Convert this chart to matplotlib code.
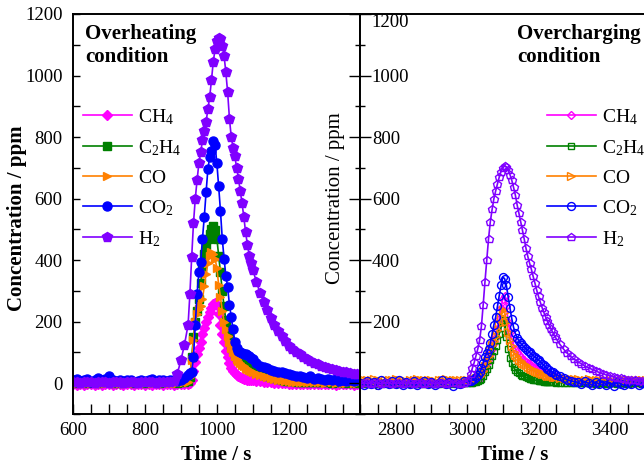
import matplotlib
matplotlib.use('Agg')
import matplotlib.pyplot as plt
import numpy as np
from matplotlib.ticker import MultipleLocator

plt.rcParams['font.family'] = 'serif'
plt.rcParams['font.serif'] = ['Liberation Serif', 'DejaVu Serif']
plt.rcParams['mathtext.fontset'] = 'custom'
plt.rcParams['mathtext.rm'] = 'Liberation Serif'
plt.rcParams['mathtext.bf'] = 'Liberation Serif:bold'

# sampling times: 10 s on the baseline, 5 s around the release peak
t_heat = np.concatenate([np.arange(600, 925, 10), np.arange(925, 1100, 5), np.arange(1100, 1400, 10)])
t_charge = np.concatenate([np.arange(2700, 3015, 10), np.arange(3015, 3250, 5), np.arange(3250, 3560, 10)])

# overheating test (ppm)
ch4_heat = [-4, -5, -3, -6, -4, -3, -5, -4, -6, -3, -4, -5, -3, -4, -6, -4, -3, -5, -4, -3,
            -5, -4, -6, -3, -4, -5, -4, -3, -5, -4, -3, -4, -2,
            2, 10, 40, 70, 95, 115, 135, 160, 180, 200, 215, 232, 245, 258, 262, 255, 225, 190,
            160, 135, 105, 85, 65, 50, 40, 32, 27, 23, 20, 17, 15, 13, 12, 11, 10,
            9, 7, 6, 5, 4, 3, 2, 2, 1, 0, -1, -2, -2, -3, -3, -4, -3, -4, -3, -4,
            -4, -3, -4, -5, -3, -4, -3, -4, -5, -4]
c2h4_heat = [3, 2, 4, 3, 2, 3, 4, 2, 3, 3, 4, 2, 3, 2, 3, 4, 3, 2, 3, 3,
             2, 4, 3, 3, 2, 3, 4, 3, 3, 2, 3, 4, 6,
             20, 85, 150, 200, 235, 275, 325, 375, 420, 450, 470, 485, 500, 510, 498, 470, 415, 360,
             300, 250, 205, 175, 150, 125, 110, 95, 85, 78, 72, 68, 64, 60, 56, 52, 48,
             45, 38, 32, 27, 23, 20, 16, 13, 10, 8, 7, 6, 5, 5, 4, 4, 3, 4, 3, 3,
             4, 3, 2, 3, 3, 2, 3, 2, 3, 2]
co_heat = [2, 1, 3, 2, 1, 2, 3, 2, 1, 2, 2, 3, 1, 2, 2, 1, 3, 2, 2, 1,
           2, 3, 2, 1, 2, 2, 3, 2, 1, 2, 3, 4, 5,
           20, 75, 140, 200, 225, 240, 250, 275, 315, 355, 390, 415, 425, 420, 405, 375, 320, 280,
           235, 200, 175, 155, 135, 115, 100, 90, 80, 72, 66, 60, 55, 50, 46, 42, 39,
           36, 31, 27, 23, 20, 17, 14, 11, 9, 7, 6, 5, 5, 4, 4, 3, 3, 4, 3, 3,
           2, 3, 3, 2, 3, 2, 2, 3, 2, 2]
co2_heat = [10, 14, 6, 12, 15, 5, 11, 16, 9, 13, 24, 12, 8, 10, 6, 9, 12, 4, 8, 11,
            6, 9, 13, 5, 10, 12, 7, 9, 11, 8, 12, 18, 28,
            32, 36, 85, 190, 290, 360, 395, 470, 540, 620, 695, 735, 755, 788, 775, 715, 640, 560,
            470, 405, 350, 312, 255, 215, 175, 135, 115, 105, 100, 97, 96, 95, 93, 88, 82,
            78, 66, 57, 52, 48, 44, 41, 38, 36, 34, 30, 26, 23, 25, 20, 17, 22, 15, 18, 14,
            12, 15, 10, 13, 8, 11, 6, 9, 7, 10]
h2_heat = [3, 4, 2, 3, 5, 3, 2, 4, 3, 3, 2, 4, 5, 3, 2, 3, 4, 3, 2, 3,
           4, 3, 3, 2, 4, 3, 3, 4, 6, 30, 75, 125, 190,
           290, 410, 520, 600, 660, 715, 750, 790, 820, 850, 890, 930, 985, 1045, 1085, 1112, 1122, 1118,
           1095, 1065, 1010, 945, 860, 800, 765, 737, 700, 665, 625, 585, 540, 490, 450, 415, 390,
           368, 330, 293, 265, 238, 212, 190, 170, 152, 136, 122, 112, 102, 94, 86, 79, 73, 67, 62, 57,
           53, 50, 46, 43, 40, 38, 36, 33, 31, 29]

# overcharging test (ppm)
ch4_charge = [1, 3, 0, 2, 4, 1, 2, 3, 0, 2, 1, 3, 2, 0, 2, 3, 1, 2, 0, 3,
              2, 1, 2, 3, 1, 0, 2, 3, 1, 2, 3, 3,
              4, 6, 8, 12, 18, 26, 38, 50, 65, 80, 95, 112, 130, 150, 175, 210, 245, 275, 285, 250,
              200, 168, 145, 126, 112, 101, 93, 86, 80, 75, 70, 65, 61, 57, 53, 50, 47, 44, 41, 38,
              35, 33, 30, 28, 26, 24, 22,
              20, 16, 13, 10, 8, 6, 5, 4, 3, 3, 2, 3, 2, 2, 3, 2, 1, 2, 2, 1,
              2, 2, 1, 2, 1, 2, 1, 1, 2, 1, 1]
c2h4_charge = [-1, 0, -2, -1, 0, -1, -2, 0, -1, -1, 0, -2, -1, 0, -1, -1, -2, 0, -1, 0,
               -1, -2, -1, 0, -1, -1, 0, -2, -1, 0, 0, 1,
               2, 3, 5, 7, 10, 15, 24, 35, 47, 60, 75, 90, 105, 120, 140, 160, 180, 200, 205, 150,
               110, 82, 66, 52, 43, 37, 32, 28, 25, 22, 19, 17, 15, 13, 11, 10, 9, 8, 7, 6,
               5, 5, 4, 4, 3, 3, 3,
               2, 2, 1, 1, 1, 0, 1, 0, 0, 1, 0, -1, 0, 0, -1, 0, 0, -1, 0, 0,
               -1, 0, 0, 0, -1, 0, 0, -1, 0, 0, 0]
co_charge = [10, 12, 9, 11, 13, 10, 8, 12, 11, 9, 13, 10, 12, 8, 11, 10, 13, 9, 12, 11,
             10, 8, 12, 10, 13, 11, 9, 12, 10, 11, 12, 12,
             13, 15, 17, 20, 24, 30, 40, 55, 72, 90, 108, 123, 138, 155, 172, 192, 215, 238, 232, 200,
             168, 140, 120, 102, 92, 84, 77, 71, 66, 62, 58, 54, 50, 46, 43, 40, 37, 35, 33, 31,
             29, 27, 25, 23, 22, 21, 20,
             19, 17, 16, 15, 14, 13, 13, 12, 12, 13, 12, 11, 12, 12, 11, 12, 13, 11, 12, 11,
             12, 12, 11, 12, 11, 12, 11, 12, 12, 11, 12]
co2_charge = [2, -5, 8, -3, 5, -6, 10, 0, -4, 6, -2, 9, -7, 3, -3, 7, -5, 1, 8, -4,
              4, -6, 2, 10, -3, 5, -8, 1, -2, 6, 3, 8,
              10, 14, 20, 26, 35, 48, 66, 85, 98, 112, 130, 160, 190, 215, 250, 285, 318, 345, 340, 318,
              280, 245, 210, 182, 162, 148, 138, 130, 123, 118, 112, 106, 100, 95, 90, 85, 80, 75, 70, 64,
              58, 52, 47, 42, 38, 35, 31,
              28, 22, 16, 12, 8, 5, 3, -4, 6, 0, -6, 4, -3, 7, -5, 2, -8, 5, -2, -7,
              3, -4, 6, -6, 1, -3, 4, -5, 2, -2, 0]
h2_charge = [-2, 1, 0, -1, 2, 0, -2, 1, 0, -1, 1, 0, -2, 0, 1, -1, 0, 2, -1, 0,
             1, -2, 0, 1, -1, 0, 2, 0, -1, 1, 8, 30,
             50, 68, 90, 112, 140, 185, 255, 330, 400, 470, 525, 565, 600, 625, 648, 670, 688, 700, 706, 702,
             692, 678, 660, 637, 612, 580, 553, 525, 497, 468, 438, 412, 390, 370, 347, 325, 302, 282, 263, 246,
             230, 215, 202, 188, 176, 165, 154,
             144, 126, 111, 98, 87, 78, 70, 63, 56, 50, 45, 40, 35, 31, 27, 24, 21, 18, 16, 14,
             12, 10, 9, 8, 7, 6, 5, 5, 4, 4, 3]

gas_labels = [r'$\mathregular{CH_4}$', r'$\mathregular{C_2H_4}$', r'$\mathregular{CO}$',
              r'$\mathregular{CO_2}$', r'$\mathregular{H_2}$']
colors = ['#ff00ff', '#008000', '#ff8000', '#0000ff', '#8000ff']
markers = ['D', 's', '>', 'o', 'p']
msizes = [5.0, 5.5, 6.0, 6.5, 7.0]


def draw_panel(ax, t, series, hollow):
    for vals, lab, c, m, ms in zip(series, gas_labels, colors, markers, msizes):
        if hollow:
            ax.plot(t, vals, color=c, lw=1.2, marker=m, ms=ms - 0.8, mec=c, mew=1.0,
                    mfc='none', label=lab)
        else:
            ax.plot(t, vals, color=c, lw=1.2, marker=m, ms=ms, mec=c, mfc=c, label=lab)


def style_axes(ax):
    for sp in ax.spines.values():
        sp.set_linewidth(1.4)
    ax.set_ylim(-100, 1200)
    ax.set_yticks([0, 200, 400, 600, 800, 1000, 1200])
    ax.xaxis.set_major_locator(MultipleLocator(200))
    ax.xaxis.set_minor_locator(MultipleLocator(50))
    ax.yaxis.set_minor_locator(MultipleLocator(100))
    ax.tick_params(axis='x', which='both', direction='in', length=7.5, width=1,
                   labelsize=13.5, pad=6, top=False)
    ax.set_xlabel('Time / s', fontsize=15, fontweight='bold', labelpad=4)


fig = plt.figure(figsize=(6.44, 4.71), dpi=100)
ax1 = fig.add_axes([73 / 644, 57 / 471, 287 / 644, 400 / 471])
ax2 = fig.add_axes([360 / 644, 57 / 471, 306 / 644, 400 / 471])

draw_panel(ax1, t_heat, [ch4_heat, c2h4_heat, co_heat, co2_heat, h2_heat], hollow=False)
draw_panel(ax2, t_charge, [ch4_charge, c2h4_charge, co_charge, co2_charge, h2_charge], hollow=True)

style_axes(ax1)
ax1.set_xlim(600, 1398)
ax1.tick_params(axis='y', which='both', direction='in', length=5, width=1,
                labelsize=13.5, pad=7.5, right=False)
ax1.set_ylabel('Concentration / ppm', fontsize=15, fontweight='bold')
ax1.yaxis.set_label_coords(-0.16, 0.49)

style_axes(ax2)
ax2.set_xlim(2700, 3557)
ax2.tick_params(axis='y', which='major', direction='inout', length=16.5, width=1,
                labelsize=13.5, pad=-16.8, right=False)
ax2.tick_params(axis='y', which='minor', direction='inout', length=7, width=1, right=False)
ylabels = ax2.get_yticklabels()
for lab in ylabels:
    lab.set_ha('left')
ylabels[-1].set_va('top')
ax2.set_ylabel('Concentration / ppm', fontsize=15)
ax2.yaxis.set_label_coords(-0.049, 0.54)

ax1.text(0.042, 0.975, 'Overheating\ncondition', transform=ax1.transAxes,
         fontsize=15, fontweight='bold', va='top', ha='left')
ax2.text(0.513, 0.975, 'Overcharging\ncondition', transform=ax2.transAxes,
         fontsize=15, fontweight='bold', va='top', ha='left')

leg_kw = dict(loc='upper left', frameon=False, fontsize=14, numpoints=1, borderpad=0,
              borderaxespad=0, handlelength=2.5, handletextpad=0.35, labelspacing=0.58)
ax1.legend(bbox_to_anchor=(0.035, 0.767), **leg_kw)
ax2.legend(bbox_to_anchor=(0.611, 0.767), **leg_kw)

fig.savefig('out.png', dpi=100)
